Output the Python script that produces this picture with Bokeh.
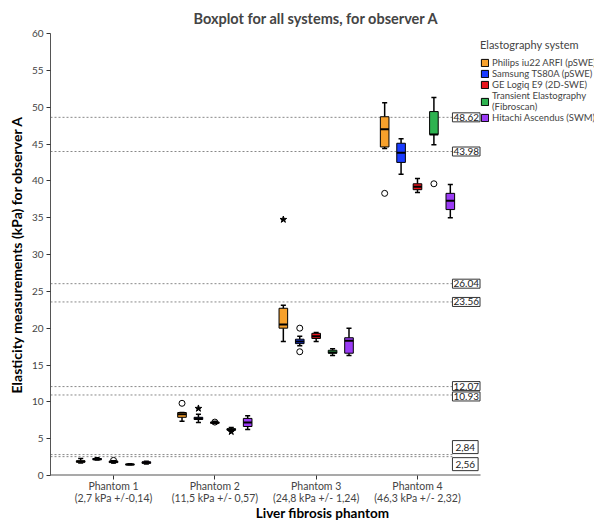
from bokeh.plotting import figure
from bokeh.models import Range1d, FixedTicker, Label, Legend, LegendItem, ColumnDataSource, LinearAxis
from bokeh.embed import file_html
from bokeh.resources import INLINE

# ---------------- data ----------------
phantoms = [1, 2, 3, 4]
phantom_names = ["Phantom 1", "Phantom 2", "Phantom 3", "Phantom 4"]
phantom_refs = ["(2,7 kPa +/-0,14)", "(11,5 kPa +/- 0,57)", "(24,8 kPa +/- 1,24)", "(46,3 kPa +/- 2,32)"]
systems = [
    "Philips iu22 ARFI (pSWE)",
    "Samsung TS80A (pSWE)",
    "GE Logiq E9 (2D-SWE)",
    "Transient Elastography\n(Fibroscan)",
    "Hitachi Ascendus (SWM)",
]
colors = ["#f7a12c", "#1a3cff", "#e8141c", "#2eb350", "#9b3cf5"]

# per system, per phantom: lower whisker, Q1, median, Q3, upper whisker
whisker_lo = [
    [1.70, 7.35, 18.2, 44.4],
    [2.10, 7.20, 17.6, 40.9],
    [1.70, 7.05, 18.2, 38.4],
    [1.45, 6.00, 16.3, 44.9],
    [1.55, 6.25, 16.3, 35.0],
]
q1 = [
    [1.80, 7.90, 20.0, 44.6],
    [2.15, 7.60, 17.9, 42.5],
    [1.75, 7.10, 18.6, 38.8],
    [1.45, 6.15, 16.6, 46.3],
    [1.65, 6.65, 16.6, 36.1],
]
median = [
    [1.90, 8.30, 20.5, 47.0],
    [2.20, 7.75, 18.2, 43.8],
    [1.85, 7.15, 18.9, 39.2],
    [1.50, 6.25, 16.7, 46.3],
    [1.75, 7.20, 18.3, 37.3],
]
q3 = [
    [2.00, 8.55, 22.7, 48.7],
    [2.30, 7.90, 18.5, 45.1],
    [1.95, 7.25, 19.3, 39.6],
    [1.55, 6.35, 17.0, 49.4],
    [1.85, 7.75, 18.7, 38.3],
]
whisker_hi = [
    [2.30, 8.55, 23.1, 50.6],
    [2.40, 8.30, 18.9, 45.7],
    [2.00, 7.35, 19.4, 40.3],
    [1.60, 6.50, 17.2, 51.3],
    [1.95, 8.10, 20.0, 39.5],
]

# outliers: system index, phantom, value
circle_system = [0, 0, 1, 1, 2, 2, 3]
circle_phantom = [2, 4, 3, 3, 1, 2, 4]
circle_value = [9.8, 38.3, 20.0, 16.8, 2.05, 7.25, 39.6]
star_system = [0, 1, 3]
star_phantom = [3, 2, 2]
star_value = [34.75, 9.1, 5.95]

ref_values = [48.62, 43.98, 26.04, 23.56, 12.07, 10.93, 2.84, 2.56]
ref_labels = ["48.62", "43.98", "26.04", "23.56", "12.07", "10.93", "2,84", "2,56"]

# ---------------- styling ----------------
FONT = "Lato"
GROUP_STEP = 0.162
BOX_W = 0.085
CAP_W = 0.05
X_START, X_AXIS_END, X_END = 0.378, 4.622, 5.747
REF_END = 4.345
ref_baselines = ["middle", "middle", "middle", "middle", "bottom", "top", "bottom", "top"]
ref_yoff = [0, 0, 0, 0, -4, 3, 1, -1]
ref_pad = [1, 1, 1, 1, 1, 1, 3, 3]

p = figure(width=594, height=523, output_backend="svg", toolbar_location=None,
           x_range=Range1d(X_START, X_END), y_range=Range1d(0, 60),
           min_border_left=50, min_border_right=0, min_border_top=33, min_border_bottom=48)
p.outline_line_color = None
p.xgrid.visible = False
p.ygrid.visible = False
p.background_fill_color = "white"

p.title.text = "Boxplot for all systems, for observer A"
p.title.align = "left"
p.title.offset = 143
p.title.text_font = FONT
p.title.text_font_size = "14.5px"
p.title.text_font_style = "bold"
p.title.standoff = 13

# reference lines
p.segment(x0=[X_START] * len(ref_values), x1=[REF_END] * len(ref_values), y0=ref_values, y1=ref_values,
          line_color="#888888", line_dash="2 2", line_width=1)

# x axis line (only under the categories)
p.segment(x0=[X_START], x1=[X_AXIS_END], y0=[0], y1=[0], line_color="#555555", line_width=2)

legend_items = []
for i, name in enumerate(systems):
    xs = [ph + (i - 2) * GROUP_STEP for ph in phantoms]
    src = ColumnDataSource(dict(
        x=xs, xl=[x - CAP_W / 2 for x in xs], xr=[x + CAP_W / 2 for x in xs],
        bl=[x - BOX_W / 2 for x in xs], br=[x + BOX_W / 2 for x in xs],
        lo=whisker_lo[i], q1=q1[i], med=median[i], q3=q3[i], hi=whisker_hi[i]))
    p.segment(x0="x", x1="x", y0="q3", y1="hi", source=src, line_color="black", line_width=1.5)
    p.segment(x0="x", x1="x", y0="lo", y1="q1", source=src, line_color="black", line_width=1.5)
    p.segment(x0="xl", x1="xr", y0="hi", y1="hi", source=src, line_color="black", line_width=1.5)
    p.segment(x0="xl", x1="xr", y0="lo", y1="lo", source=src, line_color="black", line_width=1.5)
    r = p.vbar(x="x", width=BOX_W, top="q3", bottom="q1", source=src,
               fill_color=colors[i], line_color="black", line_width=1)
    p.segment(x0="bl", x1="br", y0="med", y1="med", source=src, line_color="black", line_width=2)
    legend_items.append(LegendItem(label=name, renderers=[r]))

cx = [ph + (s - 2) * GROUP_STEP for s, ph in zip(circle_system, circle_phantom)]
p.scatter(cx, circle_value, marker="circle", size=6, fill_color="white", fill_alpha=0,
          line_color="black", line_width=1)
sx = [ph + (s - 2) * GROUP_STEP for s, ph in zip(star_system, star_phantom)]
p.scatter(sx, star_value, marker="star", size=7, fill_color="black", line_color="black")

for v, t, b, yo, pad in zip(ref_values, ref_labels, ref_baselines, ref_yoff, ref_pad):
    p.add_layout(Label(x=REF_END, y=v, y_offset=yo, text=t, text_align="left", text_baseline=b,
                       text_font=FONT, text_font_size="10px", text_color="#222222",
                       border_line_color="#333333", border_line_width=1,
                       background_fill_color="white", padding=pad))

# axes
p.yaxis.ticker = FixedTicker(ticks=list(range(0, 61, 5)))
p.xaxis.ticker = FixedTicker(ticks=phantoms)
p.xaxis.major_label_overrides = {ph: lab for ph, lab in zip(phantoms, phantom_names)}
for ax in (p.xaxis, p.yaxis):
    ax.minor_tick_line_color = None
    ax.major_tick_in = 0
    ax.major_tick_out = 4
    ax.major_tick_line_color = "#333333"
    ax.major_label_text_font = FONT
    ax.major_label_text_color = "#444444"
p.yaxis.axis_line_color = "#555555"
p.xaxis.axis_line_color = None
p.yaxis.major_label_text_font_size = "10px"
p.xaxis.major_label_text_font_size = "10.5px"
p.xaxis.major_label_standoff = 0
p.yaxis.axis_label = "Elasticity measurements (kPa) for observer A"
p.yaxis.axis_label_text_font = FONT
p.yaxis.axis_label_text_font_style = "bold"
p.yaxis.axis_label_text_font_size = "14px"
p.yaxis.axis_label_text_color = "black"
p.yaxis.major_label_standoff = 3
p.yaxis.axis_label_standoff = 4

# second line of the category labels + axis title
x2 = LinearAxis(ticker=FixedTicker(ticks=phantoms),
                major_label_overrides={ph: lab for ph, lab in zip(phantoms, phantom_refs)})
x2.axis_line_color = None
x2.major_tick_line_color = None
x2.minor_tick_line_color = None
x2.major_tick_in = 0
x2.major_tick_out = 0
x2.major_label_standoff = -3
x2.major_label_text_font = FONT
x2.major_label_text_font_size = "10.5px"
x2.major_label_text_color = "#444444"
x2.axis_label = "Liver fibrosis phantom"
x2.axis_label_text_font = FONT
x2.axis_label_text_font_style = "bold"
x2.axis_label_text_font_size = "13.5px"
x2.axis_label_text_color = "black"
x2.axis_label_standoff = -2
p.add_layout(x2, "below")

legend = Legend(items=legend_items, location=(430, 352), title="Elastography system",
                title_text_font=FONT, title_text_font_size="11px", title_text_font_style="normal",
                title_standoff=6, label_text_font=FONT, label_text_font_size="9.5px",
                label_height=9, label_standoff=3, glyph_width=9, glyph_height=9,
                spacing=-2, padding=0, margin=0, border_line_color=None,
                background_fill_alpha=0)
p.add_layout(legend)

open("out.html", "w").write(file_html(p, INLINE))
